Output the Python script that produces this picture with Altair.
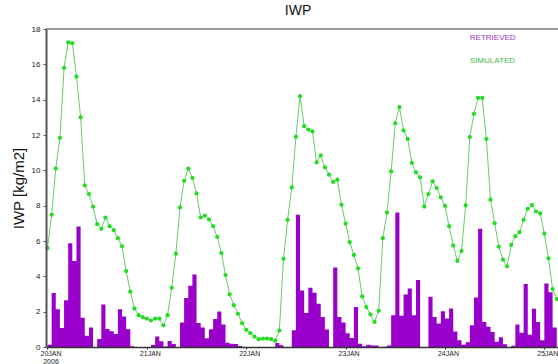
import altair as alt
import pandas as pd

# Simulated IWP (green line), hourly from 20JAN 00Z
sim_iwp = [5.6, 7.48, 10.1, 11.84, 15.8, 17.24, 17.2, 15.3, 13.0, 9.15,
           8.66, 7.94, 6.95, 6.69, 7.33, 6.84, 6.61, 6.16, 5.7, 4.3,
           3.13, 2.18, 1.8, 1.69, 1.61, 1.5, 1.61, 1.61, 1.23, 1.8,
           3.35, 5.28, 7.9, 9.41, 10.1, 9.57, 8.69, 7.33, 7.44, 7.22,
           6.84, 6.23, 5.32, 4.07, 2.98, 2.37, 1.88, 1.35, 0.97, 0.78,
           0.59, 0.44, 0.48, 0.48, 0.44, 0.36, 0.93, 5.0, 7.2, 9.03,
           11.9, 14.2, 12.5, 12.3, 12.2, 10.45, 10.85, 10.17, 9.76, 9.34,
           9.47, 8.05, 6.99, 5.93, 5.21, 4.45, 2.86, 2.26, 1.84, 1.42,
           2.05, 6.16, 7.61, 9.94, 12.67, 13.58, 12.26, 11.78, 10.42, 9.89,
           9.6, 7.95, 8.66, 9.38, 9.0, 8.47, 7.99, 6.84, 5.74, 4.87,
           5.44, 8.01, 11.88, 13.2, 14.1, 14.1, 11.78, 8.34, 7.01, 5.68,
           4.94, 4.57, 5.78, 6.27, 6.5, 7.2, 7.82, 8.03, 7.67, 7.56,
           6.42, 5.02, 3.28, 2.71]

# Retrieved IWP (purple bars), hourly
ret_iwp = [0.13, 3.05, 2.13, 1.08, 2.65, 5.87, 4.87, 6.82, 1.66, 0.63,
           1.1, 0, 0.45, 2.4, 1.02, 0.89, 0.73, 2.14, 1.73, 1.0,
           0.04, 0, 0, 0, 0, 0.12, 0.6, 0.32, 0.03, 0.34,
           0.17, 0, 1.38, 2.78, 3.47, 4.11, 1.36, 1.11, 0.49, 1.01,
           1.59, 2.01, 1.28, 0.24, 0.19, 0.17, 0.06, 0, 0, 0,
           0, 0, 0, 0, 0, 0.22, 0.1, 0, 0, 0.95,
           7.48, 3.2, 1.92, 3.35, 3.07, 2.45, 1.7, 0.99, 0, 4.5,
           1.7, 1.39, 0.78, 0.51, 2.26, 0.19, 0.04, 0.13, 0.09, 0.08,
           0, 0.02, 0.08, 1.8, 7.62, 1.77, 2.97, 3.31, 1.8, 3.79,
           0, 0, 2.84, 1.7, 1.33, 2.03, 1.61, 2.18, 0.88, 0.38,
           0.13, 0.27, 1.23, 2.8, 6.7, 1.42, 1.14, 0.85, 0.3, 0.55,
           0.15, 0, 0.07, 1.27, 0.8, 3.56, 0.7, 2.16, 1.42, 0.38,
           3.6, 3.1, 1.1]

day_labels = ["20JAN", "21JAN", "22JAN", "23JAN", "24JAN", "25JAN"]
year_label = "2006"
day_ticks = [0, 24, 48, 72, 96, 120]
y_ticks = [0, 2, 4, 6, 8, 10, 12, 14, 16, 18]
legend_names = ["RETRIEVED", "SIMULATED"]

PURPLE = "#9900cc"
GREEN_LINE = "#66cc66"
GREEN_PT = "#22dd22"

sim_df = pd.DataFrame({"hour": list(range(len(sim_iwp))), "iwp": sim_iwp})
# step outline: each hourly value holds until the next hour; repeat last to close
ret_df = pd.DataFrame({
    "hour": list(range(len(ret_iwp) + 1)),
    "iwp": ret_iwp + [ret_iwp[-1]],
})

label_items = []
for i, d in enumerate(day_labels):
    if i == 0:
        label_items.append("['%s','%s']" % (d, year_label))
    else:
        label_items.append("'%s'" % d)
label_expr = "[" + ",".join(label_items) + "][round(datum.value/24)]"

x_scale = alt.Scale(domain=[-0.36, 123.3], nice=False, zero=False)
y_scale = alt.Scale(domain=[0, 18], nice=False)

x_axis = alt.Axis(values=day_ticks, labelExpr=label_expr, title=None, grid=False,
                  domainColor="#333333", domainWidth=1.5, tickColor="#333333",
                  tickSize=2, labelFontSize=7, labelColor="#222222", labelPadding=0,
                  labelOffset=3, labelFlush=False, labelOverlap=False,
                  labelLineHeight=8, labelBaseline="top", zindex=1)
y_axis = alt.Axis(values=y_ticks, tickCount=10, title="IWP [kg/m2]", titleFontSize=15,
                  titleFontWeight="normal", titleColor="#111111", titlePadding=5,
                  labelFontSize=8, labelColor="#222222", grid=False,
                  domainColor="#555555", domainWidth=2, tickSize=3,
                  tickColor="#555555", labelPadding=3, labelFlush=False,
                  labelOverlap=False, zindex=1)

X = alt.X("hour:Q", scale=x_scale, axis=x_axis)
Y = alt.Y("iwp:Q", scale=y_scale, axis=y_axis)

bars = alt.Chart(ret_df).mark_area(color=PURPLE, interpolate="step-after", opacity=1).encode(
    x=X, y=Y)

line = alt.Chart(sim_df).mark_line(color=GREEN_LINE, strokeWidth=1).encode(x=X, y=Y)

points = alt.Chart(sim_df).mark_circle(color=GREEN_PT, size=18, opacity=1).encode(x=X, y=Y)

top_rule = alt.Chart(pd.DataFrame({"iwp": [18]})).mark_rule(
    color="#999999", strokeWidth=2).encode(y=Y)

t_ret = alt.Chart(pd.DataFrame({"label": [legend_names[0]]})).mark_text(
    align="left", baseline="middle", fontSize=8, color="#9933bb").encode(
    x=alt.datum(102), y=alt.datum(17.47), text="label:N")
t_sim = alt.Chart(pd.DataFrame({"label": [legend_names[1]]})).mark_text(
    align="left", baseline="middle", fontSize=8, color="#44bb44").encode(
    x=alt.datum(102), y=alt.datum(16.17), text="label:N")

chart = alt.layer(bars, line, points, top_rule, t_ret, t_sim).properties(
    width=512, height=318,
    title=alt.Title("IWP", fontSize=14, fontWeight="normal", offset=7, dx=-4, color="#111111"),
    autosize=alt.AutoSizeParams(type="none"),
    padding={"left": 46, "top": 29, "right": 0, "bottom": 17},
).configure(font="Liberation Sans", view=alt.ViewConfig(stroke=None))

chart.save("out.html", embed_options={"renderer": "svg", "actions": False})
